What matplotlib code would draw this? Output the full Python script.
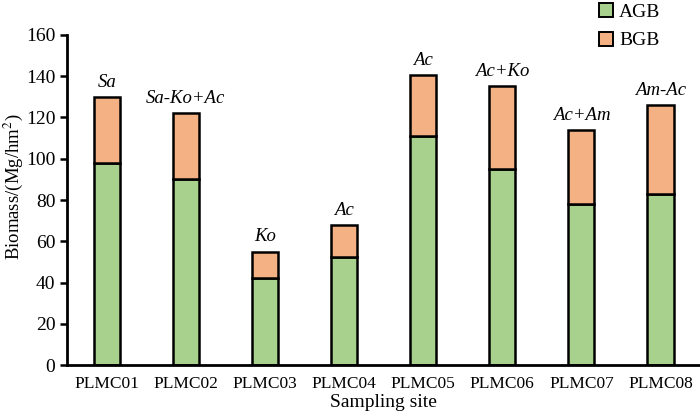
import matplotlib
matplotlib.use("Agg")
import matplotlib.pyplot as plt
from matplotlib.patches import Patch
import numpy as np

# ─────────────────────────────────────────────────────────────
#  Data
# ─────────────────────────────────────────────────────────────
sites = ["PLMC01", "PLMC02", "PLMC03", "PLMC04",
         "PLMC05", "PLMC06", "PLMC07", "PLMC08"]
agb = [98, 90, 42, 52.5, 111, 95, 78, 83]
total = [130, 122, 55, 68, 140.5, 135, 114, 126]
bgb = [t - a for t, a in zip(total, agb)]
species = ["Sa", "Sa-Ko+Ac", "Ko", "Ac", "Ac", "Ac+Ko", "Ac+Am", "Am-Ac"]

GREEN = "#A9D18E"
ORANGE = "#F4B183"

plt.rcParams["font.family"] = ["Liberation Serif", "DejaVu Serif"]
plt.rcParams["mathtext.fontset"] = "stix"

fig = plt.figure(figsize=(7, 4.15), dpi=100)
ax = fig.add_axes([0.096, 0.12, 0.904, 0.796])

x = np.arange(len(sites))
w = 0.33
ax.bar(x, agb, w, color=GREEN, edgecolor="black", linewidth=1.8, zorder=2)
ax.bar(x, bgb, w, bottom=agb, color=ORANGE, edgecolor="black",
       linewidth=1.8, zorder=2)

for xi, t, s in zip(x, total, species):
    ax.text(xi, t + 3, s, ha="center", va="bottom", fontsize=13.5,
            style="italic")

ax.set_xlim(-0.5, len(sites) - 0.5)
ax.set_ylim(0, 160)
ax.set_yticks(range(0, 161, 20))
ax.set_xticks(x)
ax.set_xticklabels(sites)
ax.tick_params(axis="x", length=0, pad=8, labelsize=12.5)
ax.tick_params(axis="y", direction="out", length=5, width=1.8, labelsize=14)
for side in ("top", "right"):
    ax.spines[side].set_visible(False)
for side in ("left", "bottom"):
    ax.spines[side].set_linewidth(2)

ax.set_xlabel("Sampling site", fontsize=14, labelpad=1)
ax.set_ylabel("Biomass/(Mg/hm$^2$)", fontsize=13.5)
ax.yaxis.set_label_coords(-0.066, 0.54)

handles = [Patch(facecolor=GREEN, edgecolor="black", linewidth=1.4, label="AGB"),
           Patch(facecolor=ORANGE, edgecolor="black", linewidth=1.4, label="BGB")]
fig.legend(handles=handles, loc="upper left", bbox_to_anchor=(0.83, 1.035),
           frameon=False, fontsize=14, handlelength=0.75, handleheight=0.75,
           handletextpad=0.3, labelspacing=0.55)

fig.savefig("out.png", dpi=100)
